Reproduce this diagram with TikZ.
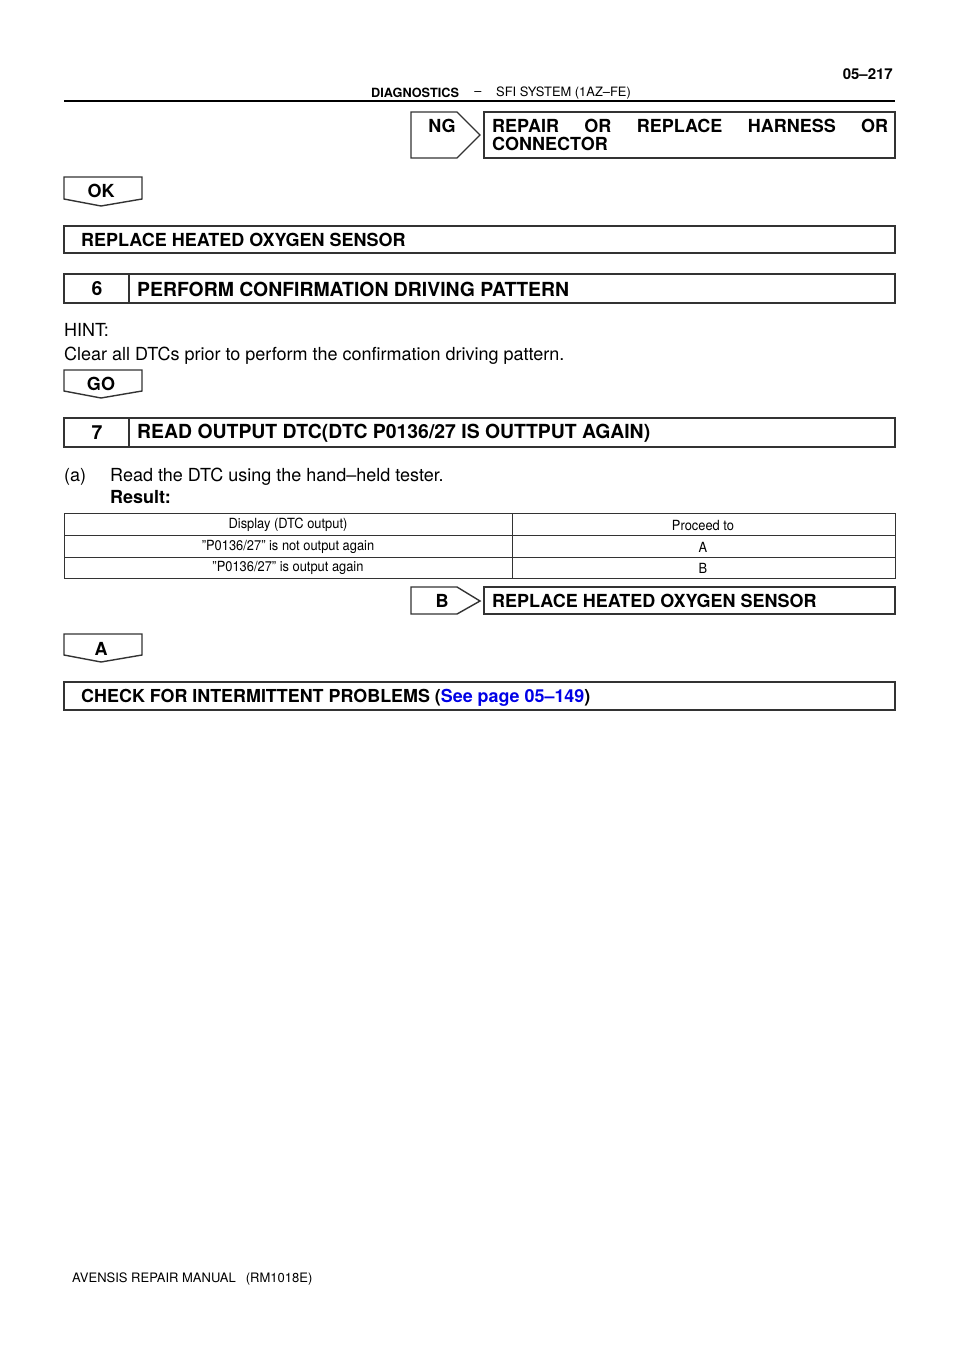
\documentclass[tikz,border=0pt]{standalone}
\usepackage{fontspec}
\setmainfont{TeX Gyre Heros}
\usepackage{xcolor}
\definecolor{linkblue}{RGB}{0,0,230}
\newcommand{\fsz}[1]{\fontsize{#1}{#1}\selectfont}

\begin{document}
\begin{tikzpicture}[x=1pt, y=-1pt,
		boxline/.style = {draw = black!80, line width = 1.4pt},
		headtxt/.style = {anchor = west, inner sep = 0pt, font = \fsz{18}\bfseries},
		steptxt/.style = {anchor = west, inner sep = 0pt, font = \fsz{19.4}\bfseries},
		bodytxt/.style = {anchor = west, inner sep = 0pt, font = \fsz{18}},
		celltxt/.style = {inner sep = 0pt, font = \fsz{14}}]
			\useasboundingbox (0, 0) rectangle (960, 1358);
			% header
			\node[anchor = east, inner sep = 0pt, font = \fsz{15}\bfseries] (pagenum) at (893, 74) {05--217};
			\node[anchor = west, inner sep = 0pt, font = \fsz{12.7}\bfseries] (chapter) at (371, 93) {DIAGNOSTICS};
			\node[inner sep = 0pt, font = \fsz{12.7}] (dash) at (478, 94) {--};
			\node[anchor = west, inner sep = 0pt, font = \fsz{12.9}] (section) at (496, 93) {SFI SYSTEM (1AZ--FE)};
			\draw[line width = 1.5pt] (64, 101) -- (895, 101);
			% NG branch
			\draw[boxline] (411, 112) -- (457, 112) -- (480, 135) -- (457, 158) -- (411, 158) -- cycle;
			\node[font = \fsz{18}\bfseries, inner sep = 0pt] (ng) at (442, 126) {NG};
			\draw[boxline] (484, 112) rectangle (895, 158);
			\node[headtxt] (repair1) at (492, 126) {\makebox[396pt][l]{REPAIR\hfill OR\hfill REPLACE\hfill HARNESS\hfill OR}};
			\node[headtxt] (repair2) at (492, 144) {CONNECTOR};
			% OK
			\draw[boxline] (64, 177) -- (142, 177) -- (142, 199) -- (101, 206) -- (64, 199) -- cycle;
			\node[font = \fsz{18}\bfseries, inner sep = 0pt] (ok) at (101, 191) {OK};
			\draw[boxline] (64, 226) rectangle (895, 253);
			\node[headtxt] (replace1) at (81, 240) {REPLACE HEATED OXYGEN SENSOR};
			% step 6
			\draw[boxline] (64, 274) rectangle (895, 303);
			\draw[boxline] (129, 274) -- (129, 303);
			\node[font = \fsz{19.4}\bfseries, inner sep = 0pt] (six) at (97, 289) {6};
			\node[steptxt] (step6) at (137, 289) {PERFORM CONFIRMATION DRIVING PATTERN};
			\node[bodytxt] (hint) at (64, 330) {HINT:};
			\node[bodytxt] (clear) at (64, 356) {Clear all DTCs prior to perform the confirmation driving pattern.};
			% GO
			\draw[boxline] (64, 370) -- (142, 370) -- (142, 391) -- (101, 398) -- (64, 391) -- cycle;
			\node[font = \fsz{18}\bfseries, inner sep = 0pt] (go) at (101, 384) {GO};
			% step 7
			\draw[boxline] (64, 418) rectangle (895, 447);
			\draw[boxline] (129, 418) -- (129, 447);
			\node[font = \fsz{19.4}\bfseries, inner sep = 0pt] (seven) at (97, 433) {7};
			\node[steptxt] (step7) at (137, 433) {READ OUTPUT DTC(DTC P0136/27 IS OUTTPUT AGAIN)};
			\node[bodytxt] (itema) at (64, 477) {(a)};
			\node[bodytxt] (readdtc) at (110, 477) {Read the DTC using the hand--held tester.};
			\node[bodytxt, font = \fsz{18}\bfseries] (result) at (110, 497) {Result:};
			% result table
			\draw[draw = black!80, line width = 1pt] (64, 513) rectangle (895, 578);
			\draw[draw = black!80, line width = 1pt] (64, 535) -- (895, 535);
			\draw[draw = black!80, line width = 1pt] (64, 557) -- (895, 557);
			\draw[draw = black!80, line width = 1pt] (512, 513) -- (512, 578);
			\node[celltxt] (cellh1) at (288, 525) {\scalebox{0.92}[1]{Display (DTC output)}};
			\node[celltxt] (cellh2) at (703, 525) {\scalebox{0.92}[1]{Proceed to}};
			\node[celltxt] (cella1) at (288, 547) {\scalebox{0.92}[1]{”P0136/27” is not output again}};
			\node[celltxt] (cella2) at (703, 547) {\scalebox{0.92}[1]{A}};
			\node[celltxt] (cellb1) at (288, 568) {\scalebox{0.92}[1]{”P0136/27” is output again}};
			\node[celltxt] (cellb2) at (703, 568) {\scalebox{0.92}[1]{B}};
			% B branch
			\draw[boxline] (411, 587) -- (457, 587) -- (480, 601) -- (457, 614) -- (411, 614) -- cycle;
			\node[font = \fsz{18}\bfseries, inner sep = 0pt] (bb) at (442, 601) {B};
			\draw[boxline] (484, 587) rectangle (895, 614);
			\node[headtxt] (replace2) at (492, 601) {REPLACE HEATED OXYGEN SENSOR};
			% A
			\draw[boxline] (64, 634) -- (142, 634) -- (142, 655) -- (101, 662) -- (64, 655) -- cycle;
			\node[font = \fsz{18}\bfseries, inner sep = 0pt] (aa) at (101, 649) {A};
			\draw[boxline] (64, 682) rectangle (895, 710);
			\node[headtxt, font = \fsz{17.9}\bfseries] (check) at (81, 698) {CHECK FOR INTERMITTENT PROBLEMS (\textcolor{linkblue}{See page 05--149})};
			% footer
			\node[anchor = west, inner sep = 0pt, font = \fsz{13}] (footer) at (72, 1279) {AVENSIS REPAIR MANUAL\hspace{10pt}(RM1018E)};
		\end{tikzpicture}
\end{document}
